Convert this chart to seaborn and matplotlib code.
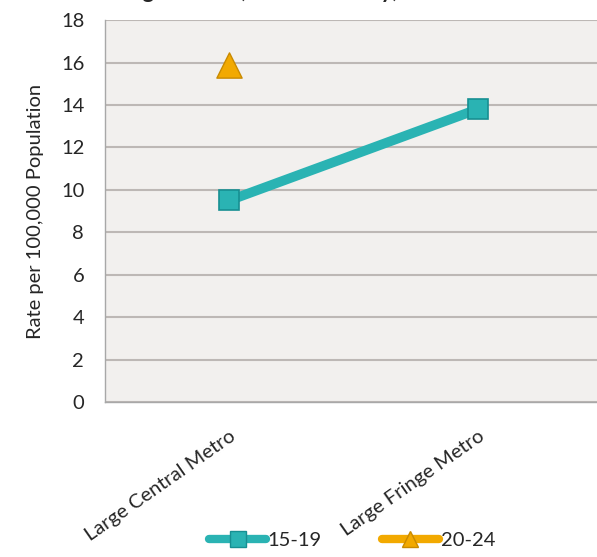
import numpy as np
import pandas as pd
import matplotlib
matplotlib.use("Agg")
import matplotlib.pyplot as plt
from matplotlib.lines import Line2D
import seaborn as sns

# data
categories = ["Large Central Metro", "Large Fringe Metro"]
rate_15_19 = [9.5, 13.8]
rate_20_24 = [15.9, np.nan]
y_ticks = [0, 2, 4, 6, 8, 10, 12, 14, 16, 18]

TEAL = "#2AB3B3"
TEAL_DARK = "#178F92"
ORANGE = "#F2A900"
ORANGE_DARK = "#C98A00"

sns.set_style("white")
plt.rcParams["font.family"] = ["Lato", "DejaVu Sans"]

df = pd.DataFrame({
    "pos": np.arange(len(categories)),
    "15-19": rate_15_19,
    "20-24": rate_20_24,
})

fig = plt.figure(figsize=(5.97, 5.57), dpi=100)
ax = fig.add_axes([0.176, 0.278, 0.832, 0.686])
ax.set_facecolor("#F2F0EE")

sns.lineplot(data=df, x="pos", y="15-19", ax=ax, color=TEAL, linewidth=7,
             marker="s", markersize=15, markerfacecolor=TEAL,
             markeredgecolor=TEAL_DARK, markeredgewidth=1.2, zorder=3)
sns.scatterplot(data=df, x="pos", y="20-24", ax=ax, color=ORANGE, marker="^",
                s=330, edgecolor=ORANGE_DARK, linewidth=1.0, zorder=3)

ax.set_ylim(0, 18)
ax.set_yticks(y_ticks)
ax.set_xlim(-0.5, 1.5)
ax.yaxis.grid(True, color="#BDB8B5", linewidth=1.5)
ax.set_axisbelow(True)

ax.set_xticks(range(len(categories)))
ax.set_xticklabels(categories, rotation=35, ha="right", rotation_mode="anchor",
                   fontsize=14.5)
ax.set_xticks([-0.5, 0.5, 1.5], minor=True)
ax.tick_params(axis="x", which="major", length=0, pad=18)
ax.tick_params(axis="x", which="minor", length=6, color="#A8A8A8", width=1)
ax.tick_params(axis="y", length=7, color="#A8A8A8", labelsize=14.5, pad=8)

for side in ["top", "right"]:
    ax.spines[side].set_visible(False)
for side in ["left", "bottom"]:
    ax.spines[side].set_color("#A8A8A8")
    ax.spines[side].set_linewidth(1)

ax.set_xlabel("")
ax.set_ylabel("Rate per 100,000 Population", fontsize=14.5, labelpad=12)

# title is cropped off at the top edge in the reference
fig.text(0.5, 1.015, "Among Females, Metro County, 2006-2010", ha="center",
         va="center", fontsize=16, fontweight="bold")

handles = [
    Line2D([], [], color=TEAL, linewidth=6, marker="s", markersize=11,
           markerfacecolor=TEAL, markeredgecolor=TEAL_DARK),
    Line2D([], [], color=ORANGE, linewidth=6, marker="^", markersize=11,
           markerfacecolor=ORANGE, markeredgecolor=ORANGE_DARK),
]
fig.legend(handles, ["15-19", "20-24"], loc="center", bbox_to_anchor=(0.59, 0.03),
           ncol=2, frameon=False, fontsize=14.5, handlelength=2.8,
           handletextpad=0.1, columnspacing=3.0)

fig.savefig("out.png", dpi=100)
